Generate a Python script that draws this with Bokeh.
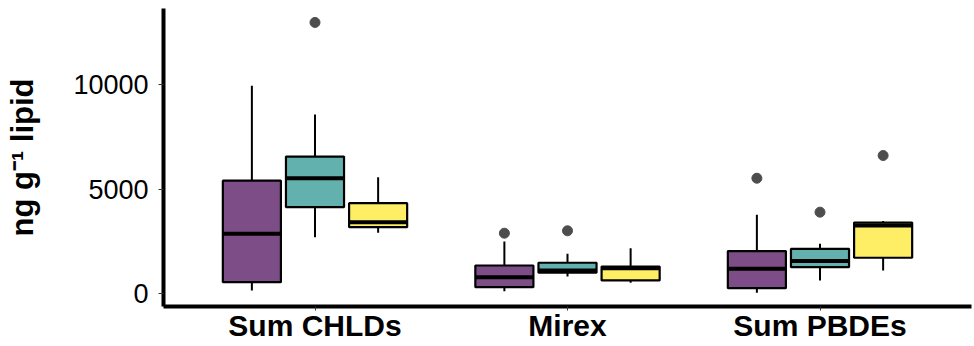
from bokeh.plotting import figure
from bokeh.models import Range1d, FixedTicker, ColumnDataSource
from bokeh.transform import dodge
from bokeh.embed import file_html
from bokeh.resources import INLINE

categories = ["Sum CHLDs", "Mirex", "Sum PBDEs"]
group_colors = ["#7C4D87", "#63B1AE", "#FDEE66"]
group_offsets = [-0.25, 0.0, 0.25]

# group 1 (purple)
g1_lower = [130, 96, 20]
g1_q1 = [530, 290, 240]
g1_median = [2850, 770, 1170]
g1_q3 = [5400, 1330, 2020]
g1_upper = [9960, 2480, 3760]

# group 2 (teal)
g2_lower = [2690, 800, 610]
g2_q1 = [4130, 980, 1250]
g2_median = [5520, 1090, 1540]
g2_q3 = [6560, 1460, 2130]
g2_upper = [8580, 1890, 2370]

# group 3 (yellow)
g3_lower = [2900, 500, 1090]
g3_q1 = [3170, 610, 1700]
g3_median = [3410, 1200, 3250]
g3_q3 = [4320, 1280, 3390]
g3_upper = [5570, 2160, 3460]

# outliers
out_category = ["Sum CHLDs", "Mirex", "Mirex", "Sum PBDEs", "Sum PBDEs", "Sum PBDEs"]
out_group = [1, 0, 1, 0, 1, 2]
out_value = [13000, 2880, 2995, 5520, 3890, 6610]

y_ticks = [0, 5000, 10000]

BOX_W = 0.23
FONT = "Liberation Sans"

p = figure(width=974, height=346, output_backend="svg", toolbar_location=None,
           x_range=Range1d(0.4, 3.6), y_range=Range1d(-640, 13670),
           min_border_left=163, min_border_right=3, min_border_top=8,
           min_border_bottom=40)
p.outline_line_color = None
p.xgrid.visible = False
p.ygrid.visible = False
p.background_fill_color = "white"
p.border_fill_color = "white"

xi = [categories.index(c) + 1 for c in categories]
groups = [
    (g1_lower, g1_q1, g1_median, g1_q3, g1_upper),
    (g2_lower, g2_q1, g2_median, g2_q3, g2_upper),
    (g3_lower, g3_q1, g3_median, g3_q3, g3_upper),
]

for gi, (lo, q1, med, q3, up) in enumerate(groups):
    src = ColumnDataSource(dict(xi=xi, lo=lo, q1=q1, med=med, q3=q3, up=up))
    off = group_offsets[gi]
    p.segment(x0=dodge("xi", off, range=p.x_range), x1=dodge("xi", off, range=p.x_range),
              y0="lo", y1="up", source=src, line_color="black", line_width=2)
    p.vbar(x=dodge("xi", off, range=p.x_range), width=BOX_W, bottom="q1", top="q3",
           source=src, fill_color=group_colors[gi], line_color="black", line_width=2.2)
    p.segment(x0=dodge("xi", off - BOX_W / 2, range=p.x_range),
              x1=dodge("xi", off + BOX_W / 2, range=p.x_range),
              y0="med", y1="med", source=src, line_color="black", line_width=4)

osrc = ColumnDataSource(dict(
    x=[categories.index(c) + 1 + group_offsets[g] for c, g in zip(out_category, out_group)],
    y=out_value))
p.scatter(x="x", y="y", source=osrc, size=10, fill_color="#4D4D4D", line_color="#4D4D4D")

# axes
p.xaxis.ticker = FixedTicker(ticks=xi)
p.xaxis.major_label_overrides = {i: c for i, c in zip(xi, categories)}
p.xaxis.minor_tick_line_color = None
p.xaxis.major_label_text_font = FONT
p.xaxis.major_label_text_font_style = "bold"
p.xaxis.major_label_text_font_size = "30px"
p.xaxis.major_label_text_color = "black"
p.xaxis.major_label_standoff = -2
p.xaxis.major_tick_in = 0
p.xaxis.major_tick_out = 4
p.xaxis.major_tick_line_color = "#333333"
p.xaxis.major_tick_line_width = 1
p.xaxis.axis_line_width = 4
p.xaxis.axis_line_color = "black"

p.yaxis.ticker = FixedTicker(ticks=y_ticks)
p.yaxis.minor_tick_line_color = None
p.yaxis.major_label_text_font = FONT
p.yaxis.major_label_text_font_size = "27px"
p.yaxis.major_label_text_color = "black"
p.yaxis.major_label_standoff = 10
p.yaxis.major_tick_in = 0
p.yaxis.major_tick_out = 5
p.yaxis.major_tick_line_color = "#333333"
p.yaxis.major_tick_line_width = 1
p.yaxis.axis_line_width = 4
p.yaxis.axis_line_color = "black"
p.yaxis.axis_label = "ng g\u207b\u00b9 lipid"
p.yaxis.axis_label_text_font = FONT
p.yaxis.axis_label_text_font_style = "bold"
p.yaxis.axis_label_text_font_size = "31px"
p.yaxis.axis_label_text_color = "black"
p.yaxis.axis_label_standoff = 30

open("out.html", "w").write(file_html(p, INLINE))
